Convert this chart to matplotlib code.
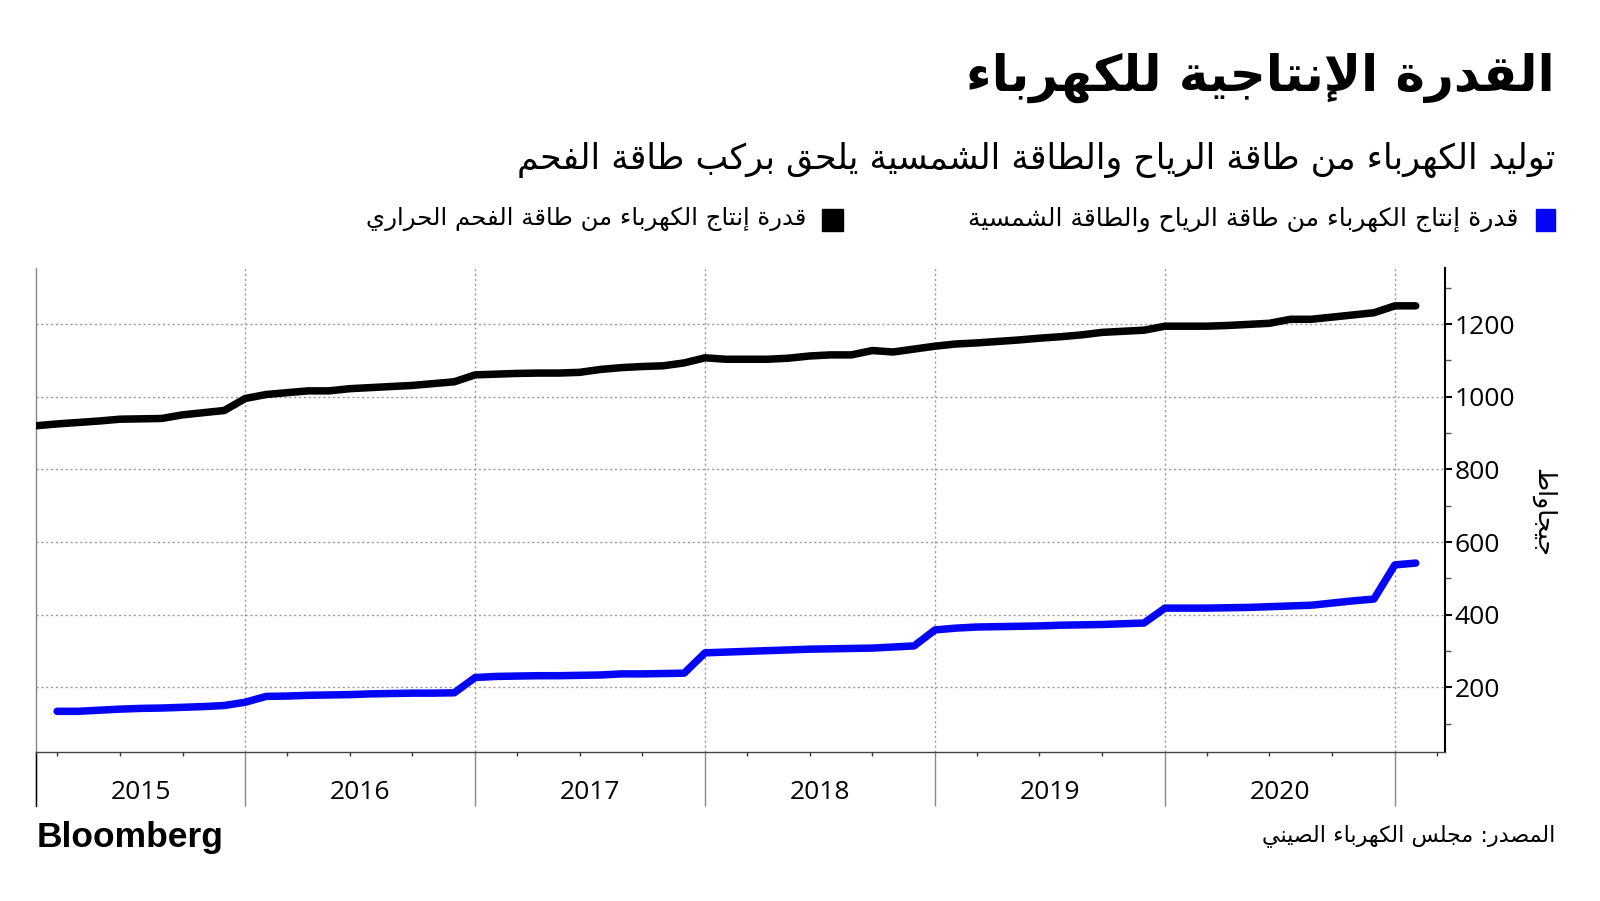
# -*- coding: utf-8 -*-
"""
China power capacity: wind + solar vs. coal-fired thermal (GW).
Monthly readings, Jan folded into Feb, so 11 points per year.
"""

import matplotlib
matplotlib.use('Agg')
import matplotlib.pyplot as plt
from matplotlib.patches import Rectangle
from matplotlib.lines import Line2D
import numpy as np

# ---- data ----
years = ['2015', '2016', '2017', '2018', '2019', '2020']
year_starts = [0, 10, 21, 32, 43, 54, 65]        # index where each year begins
quarter_ticks = [1, 4, 7, 12, 15, 18, 23, 26, 29, 34, 37, 40,
                 45, 48, 51, 56, 59, 62, 67]

coal = [920, 925, 929, 933, 938, 939, 940, 950, 956, 962,
        995, 1006, 1011, 1016, 1016, 1022, 1025, 1028, 1031, 1036, 1041,
        1060, 1062, 1064, 1065, 1065, 1067, 1075, 1080, 1083, 1085, 1093,
        1107, 1103, 1103, 1103, 1106, 1112, 1115, 1115, 1127, 1123, 1131,
        1139, 1145, 1148, 1152, 1156, 1161, 1165, 1170, 1177, 1180, 1183,
        1194, 1194, 1194, 1196, 1199, 1202, 1213, 1213, 1219, 1225, 1231,
        1250, 1250]

wind_solar = [134, 134, 137, 140, 142, 143, 145, 147, 150,
              159, 175, 176, 178, 179, 180, 182, 183, 184, 184, 185,
              227, 230, 231, 232, 232, 233, 234, 237, 237, 238, 239,
              295, 297, 299, 301, 303, 305, 306, 307, 308, 311, 314,
              358, 363, 366, 367, 368, 369, 371, 372, 373, 375, 377,
              418, 418, 418, 419, 420, 422, 424, 426, 432, 438, 443,
              537, 542]

title = 'القدرة الإنتاجية للكهرباء'
subtitle = 'توليد الكهرباء من طاقة الرياح والطاقة الشمسية يلحق بركب طاقة الفحم'
label_ws = 'قدرة إنتاج الكهرباء من طاقة الرياح والطاقة الشمسية'
label_coal = 'قدرة إنتاج الكهرباء من طاقة الفحم الحراري'
source = 'المصدر: مجلس الكهرباء الصيني'
unit = 'جيجاواط'

# ---- tiny Arabic shaper: presentation forms + reversal (no bidi lib here) ----
FORMS = {
    'ء': (0xFE80, 1), 'آ': (0xFE81, 2), 'أ': (0xFE83, 2), 'ؤ': (0xFE85, 2),
    'إ': (0xFE87, 2), 'ئ': (0xFE89, 4), 'ا': (0xFE8D, 2), 'ب': (0xFE8F, 4),
    'ة': (0xFE93, 2), 'ت': (0xFE95, 4), 'ث': (0xFE99, 4), 'ج': (0xFE9D, 4),
    'ح': (0xFEA1, 4), 'خ': (0xFEA5, 4), 'د': (0xFEA9, 2), 'ذ': (0xFEAB, 2),
    'ر': (0xFEAD, 2), 'ز': (0xFEAF, 2), 'س': (0xFEB1, 4), 'ش': (0xFEB5, 4),
    'ص': (0xFEB9, 4), 'ض': (0xFEBD, 4), 'ط': (0xFEC1, 4), 'ظ': (0xFEC5, 4),
    'ع': (0xFEC9, 4), 'غ': (0xFECD, 4), 'ف': (0xFED1, 4), 'ق': (0xFED5, 4),
    'ك': (0xFED9, 4), 'ل': (0xFEDD, 4), 'م': (0xFEE1, 4), 'ن': (0xFEE5, 4),
    'ه': (0xFEE9, 4), 'و': (0xFEED, 2), 'ى': (0xFEEF, 2), 'ي': (0xFEF1, 4),
}
LAM_ALEF = {'آ': 0xFEF5, 'أ': 0xFEF7, 'إ': 0xFEF9, 'ا': 0xFEFB}


def ar(text):
    out = []
    n = len(text)
    i = 0
    while i < n:
        c = text[i]
        if c not in FORMS:
            out.append(c)
            i += 1
            continue
        prev = text[i - 1] if i > 0 else ''
        joins_prev = prev in FORMS and FORMS[prev][1] == 4
        if c == 'ل' and i + 1 < n and text[i + 1] in LAM_ALEF:
            out.append(chr(LAM_ALEF[text[i + 1]] + (1 if joins_prev else 0)))
            i += 2
            continue
        base, nforms = FORMS[c]
        nxt = text[i + 1] if i + 1 < n else ''
        joins_next = nforms == 4 and nxt in FORMS
        if nforms == 1:
            off = 0
        elif joins_prev and joins_next:
            off = 3
        elif joins_prev:
            off = 1
        elif joins_next:
            off = 2
        else:
            off = 0
        out.append(chr(base + off))
        i += 1
    return ''.join(reversed(out))


AR_FONT = ['DejaVu Sans']
NUM_FONT = ['Open Sans', 'DejaVu Sans']
W, H = 1600, 901


def fx(px):
    return px / W


def fy(py):
    return 1 - py / H


fig = plt.figure(figsize=(16, 9.01), dpi=100)
ax = fig.add_axes([fx(36.2), fy(752), fx(1445) - fx(36.2), fy(267.7) - fy(752)])

x_coal = np.arange(len(coal))
x_ws = np.arange(1, len(wind_solar) + 1)
ax.plot(x_coal, coal, color='black', lw=5.4, solid_capstyle='round',
        solid_joinstyle='round', zorder=3)
ax.plot(x_ws, wind_solar, color='#0505f5', lw=5.4, solid_capstyle='round',
        solid_joinstyle='round', zorder=3)

ax.set_xlim(0, 67.4)
ax.set_ylim(22, 1355)

# y axis on the right
ax.yaxis.tick_right()
ax.set_yticks([200, 400, 600, 800, 1000, 1200])
ax.set_yticks(np.arange(100, 1400, 200), minor=True)
ax.tick_params(axis='y', which='major', length=5, width=1.5, color='black',
               labelsize=19, pad=2)
ax.tick_params(axis='y', which='minor', length=4, width=1, color='#555')
for lab in ax.get_yticklabels():
    lab.set_fontfamily(NUM_FONT)

# x axis: long year separators, short quarter ticks
ax.set_xticks(year_starts)
ax.set_xticklabels([])
ax.set_xticks(quarter_ticks, minor=True)
ax.tick_params(axis='x', which='major', length=39, width=1, color='#888')
ax.tick_params(axis='x', which='minor', length=3, width=1, color='#333')

for i, yr in enumerate(years):
    xc = (year_starts[i] + year_starts[i + 1]) / 2
    ax.text(xc, -0.084, yr, transform=ax.get_xaxis_transform(),
            ha='center', va='center', fontsize=19, family=NUM_FONT)

# grid
for v in [200, 400, 600, 800, 1000, 1200]:
    ax.axhline(v, color='#999', lw=1, ls=(0, (1.5, 2)), zorder=1)
for xv in year_starts[1:]:
    ax.axvline(xv, color='#999', lw=1, ls=(0, (1.5, 2)), zorder=1)

ax.spines['top'].set_visible(False)
ax.spines['left'].set_color('#888')
ax.spines['left'].set_linewidth(1)
ax.spines['right'].set_color('black')
ax.spines['right'].set_linewidth(1.5)
ax.spines['bottom'].set_color('#444')
ax.spines['bottom'].set_linewidth(1)

# left edge tick goes down too, in black
ax.add_line(Line2D([fx(36.2), fx(36.2)], [fy(752), fy(806)], transform=fig.transFigure,
                   color='black', lw=1, clip_on=False))

# unit label
fig.text(fx(1543), fy(512), ar(unit), rotation=270, ha='center', va='center',
         fontsize=18, family=AR_FONT)

# titles
fig.text(fx(1555), fy(78), ar(title), ha='right', va='center', fontsize=36,
         fontweight='bold', family=AR_FONT)
fig.text(fx(1555), fy(160), ar(subtitle), ha='right', va='center', fontsize=25,
         family=AR_FONT)

# legend
fig.add_artist(Rectangle((fx(1536), fy(231)), fx(19), 22 / H, transform=fig.transFigure,
                         color='#0505f5'))
fig.text(fx(1518), fy(219), ar(label_ws), ha='right', va='center', fontsize=18,
         family=AR_FONT)
fig.add_artist(Rectangle((fx(822), fy(231)), fx(21), 22 / H, transform=fig.transFigure,
                         color='black'))
fig.text(fx(806), fy(219), ar(label_coal), ha='right', va='center', fontsize=17.6,
         family=AR_FONT)

# footer
fig.text(fx(37), fy(838), 'Bloomberg', ha='left', va='center', fontsize=25.5,
         fontweight='bold', family=['Liberation Sans', 'DejaVu Sans'])
fig.text(fx(1555), fy(836), ar(source), ha='right', va='center', fontsize=16,
         family=AR_FONT)

fig.savefig('out.png', dpi=100, facecolor='white')
